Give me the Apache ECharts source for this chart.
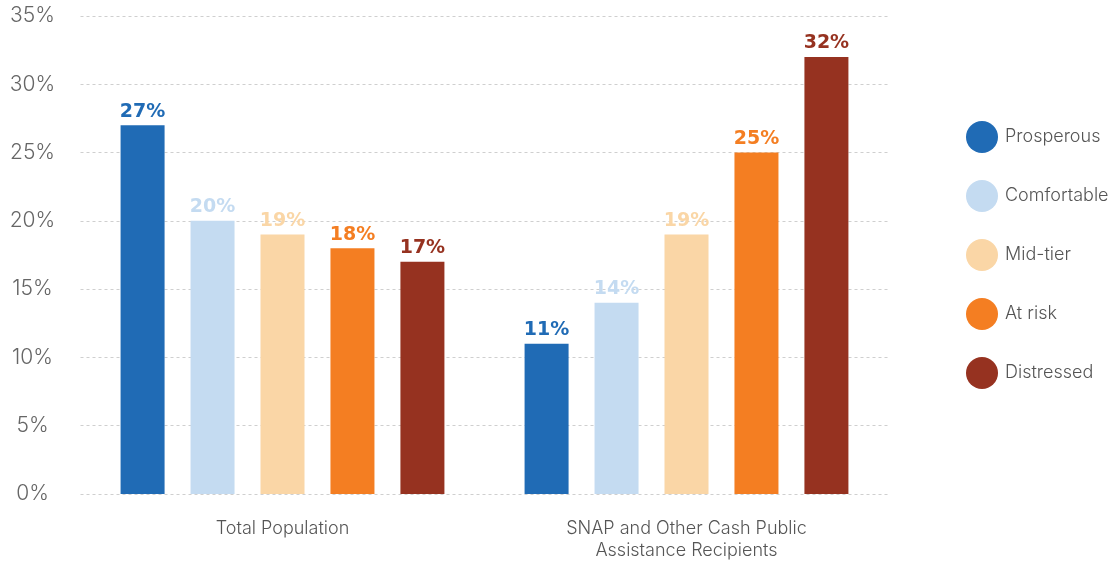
<!DOCTYPE html>
<html>
<head>
<meta charset="utf-8">
<script src="https://cdn.jsdelivr.net/npm/echarts@6/dist/echarts.min.js"></script>
<style>
  html, body { margin: 0; padding: 0; background: #fff; }
  #main { width: 1119px; height: 562px; }
</style>
</head>
<body>
<div id="main"></div>
<script>
let categories = ['Total Population', 'SNAP and Other Cash Public\nAssistance Recipients']
let seriesNames = ['Prosperous', 'Comfortable', 'Mid-tier', 'At risk', 'Distressed']
let prosperous = [27, 11]
let comfortable = [20, 14]
let midTier = [19, 19]
let atRisk = [18, 25]
let distressed = [17, 32]
let yTicks = [0, 5, 10, 15, 20, 25, 30, 35]

let colors = ['#206bb5', '#c4dbf1', '#fad6a6', '#f47e22', '#963220']
let values = [prosperous, comfortable, midTier, atRisk, distressed]

let chart = echarts.init(document.getElementById('main'))

let series = seriesNames.map((name, i) => {
	return {
		name: name,
		type: 'bar',
		barWidth: 44,
		barGap: '59%',
		itemStyle: { color: colors[i] },
		label: {
			show: true,
			position: 'top',
			distance: 4,
			formatter: '{c}%',
			color: colors[i],
			fontFamily: 'DejaVu Sans',
			fontWeight: 'bold',
			fontSize: 19
		},
		data: values[i]
	}
})

let option = {
	backgroundColor: '#fff',
	animation: false,
	grid: {
		top: 16,
		bottom: 65,
		left: 80.5,
		right: 230.5
	},
	legend: {
		orient: 'vertical',
		left: 961,
		top: 116,
		icon: 'circle',
		itemWidth: 32,
		itemHeight: 32,
		itemGap: 27,
		textStyle: {
			color: '#555',
			fontSize: 18,
			fontFamily: 'Inter',
			fontWeight: 300,
			padding: [0, 0, 0, 2]
		},
		data: seriesNames
	},
	xAxis: {
		type: 'category',
		data: categories,
		axisLine: { show: false },
		axisTick: { show: false },
		axisLabel: {
			margin: 24,
			color: '#555',
			fontSize: 18,
			lineHeight: 22,
			fontFamily: 'Inter',
			fontWeight: 300
		}
	},
	yAxis: {
		type: 'value',
		min: yTicks[0],
		max: yTicks[yTicks.length - 1],
		interval: 5,
		axisLine: { show: false },
		axisTick: { show: false },
		splitLine: {
			lineStyle: { color: '#cfcfcf', type: [3, 3], width: 1 }
		},
		axisLabel: {
			margin: 48,
			align: 'center',
			color: '#666',
			fontSize: 21,
			fontFamily: 'Inter',
			fontWeight: 300,
			formatter: '{value}%'
		}
	},
	series: series
}

chart.setOption(option)
</script>
</body>
</html>
